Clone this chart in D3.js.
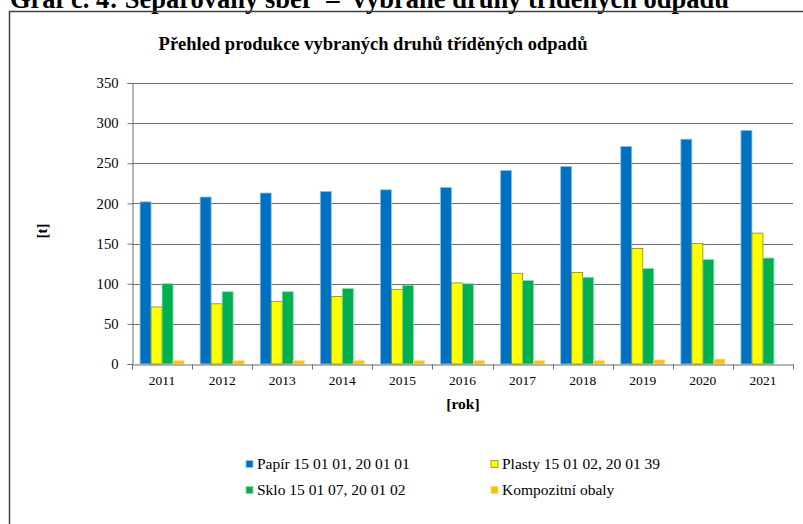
<!DOCTYPE html>
<html>
<head>
<meta charset="utf-8">
<script src="https://cdn.jsdelivr.net/npm/d3@7"></script>
<style>
  body { margin: 0; background: #fff; }
  svg text { font-family: "Liberation Serif", "Times New Roman", serif; }
</style>
</head>
<body>
<script>
// data
var years = ['2011', '2012', '2013', '2014', '2015', '2016', '2017', '2018', '2019', '2020', '2021'];
var seriesNames = ['Papír 15 01 01, 20 01 01', 'Plasty 15 01 02, 20 01 39', 'Sklo 15 01 07, 20 01 02', 'Kompozitní obaly'];
var papir = [202, 208, 213, 215, 217, 220, 241, 246, 271, 280, 291];
var plasty = [71, 75, 78, 84, 93, 101, 113, 114, 144, 150, 163];
var sklo = [100, 90, 90, 94, 98, 100, 104, 108, 119, 130, 132];
var kompozit = [4, 4, 4, 4, 4, 4, 4, 4, 5, 6, 0];
var yTicks = [0, 50, 100, 150, 200, 250, 300, 350];

var colors = ['#0070c0', '#ffff00', '#00b050', '#ffc000'];
var strokes = ['#8cc4ee', '#8c8c00', '#8fdcaa', '#ffd870'];

var W = 803, H = 524;
var plot = {left: 132, right: 793, top: 83, bottom: 364};
var serif = '"Liberation Serif", "Times New Roman", serif';

var svg = d3.select('body').append('svg')
    .attr('width', W)
    .attr('height', H);

//page heading, cut off by the top edge
svg.append('text')
    .attr('x', 10)
    .attr('y', 8)
    .attr('font-size', 26.5)
    .attr('font-weight', 'bold')
    .attr('font-family', serif)
    .style('white-space', 'pre')
    .text('Graf č. 4: Separovaný sběr  –  vybrané druhy tříděných odpadů');

//chart frame
svg.append('rect')
    .attr('x', 9.5).attr('y', 11.5)
    .attr('width', 820).attr('height', 540)
    .attr('fill', 'none')
    .attr('stroke', '#404040')
    .attr('stroke-width', 1.5);

svg.append('text')
    .attr('x', 373)
    .attr('y', 50)
    .attr('text-anchor', 'middle')
    .attr('font-size', 18.5)
    .attr('font-weight', 'bold')
    .attr('font-family', serif)
    .text('Přehled produkce vybraných druhů tříděných odpadů');

//scales
var x0 = d3.scaleBand().domain(years).range([plot.left, plot.right]).padding(0);
var x1 = d3.scaleBand().domain(d3.range(4)).range([0, x0.bandwidth()]).paddingInner(0).paddingOuter(0.73);
var y = d3.scaleLinear().domain([0, 350]).range([plot.bottom, plot.top]);

//gridlines
svg.append('g').selectAll('line')
    .data(yTicks.slice(1))
    .enter().append('line')
    .attr('x1', plot.left).attr('x2', plot.right)
    .attr('y1', function(d) { return Math.round(y(d)) + 0.5; })
    .attr('y2', function(d) { return Math.round(y(d)) + 0.5; })
    .attr('stroke', '#6e6e6e');

//bars
var table = years.map(function(yr, i) {
    return [papir[i], plasty[i], sklo[i], kompozit[i]];
});
var groups = svg.append('g').selectAll('g')
    .data(table)
    .enter().append('g')
    .attr('transform', function(d, i) { return 'translate(' + x0(years[i]) + ',0)'; });
groups.selectAll('rect')
    .data(function(d) { return d; })
    .enter().append('rect')
    .filter(function(d) { return d > 0; })
    .attr('x', function(d, j) { return x1(j); })
    .attr('y', function(d) { return y(d); })
    .attr('width', x1.bandwidth())
    .attr('height', function(d) { return y(0) - y(d); })
    .attr('fill', function(d, j) { return colors[j]; })
    .attr('stroke', function(d, j) { return strokes[j]; })
    .attr('stroke-width', 0.8);

//y axis
var yAxis = d3.axisLeft(y).tickValues(yTicks).tickSize(5).tickPadding(9);
var gy = svg.append('g')
    .attr('transform', 'translate(' + (plot.left + 0.5) + ',0)')
    .call(yAxis)
    .attr('font-family', serif);
gy.selectAll('text').attr('font-size', 14.6).attr('fill', '#000');
gy.selectAll('line, path').attr('stroke', '#6e6e6e');

//x axis, ticks at category boundaries
var xAxis = d3.axisBottom(x0).tickSize(0).tickPadding(11);
var gx = svg.append('g')
    .attr('transform', 'translate(0,' + (plot.bottom + 0.5) + ')')
    .call(xAxis)
    .attr('font-family', serif);
gx.selectAll('text').attr('font-size', 13.5).attr('fill', '#000');
gx.select('.domain').attr('stroke', '#6e6e6e');
gx.selectAll('.bound')
    .data(years.concat(['end']))
    .enter().append('line')
    .attr('class', 'bound')
    .attr('x1', function(d, i) { return Math.round(plot.left + i * x0.step()) + 0.5; })
    .attr('x2', function(d, i) { return Math.round(plot.left + i * x0.step()) + 0.5; })
    .attr('y1', 0).attr('y2', 5)
    .attr('stroke', '#6e6e6e');

//axis titles
svg.append('text')
    .attr('x', 463).attr('y', 409)
    .attr('text-anchor', 'middle')
    .attr('font-size', 15.5).attr('font-weight', 'bold')
    .attr('font-family', serif)
    .text('[rok]');
svg.append('text')
    .attr('transform', 'translate(47,231) rotate(-90)')
    .attr('text-anchor', 'middle')
    .attr('font-size', 14.5).attr('font-weight', 'bold')
    .attr('font-family', serif)
    .text('[t]');

//legend
var legendPos = [[246, 464], [491, 464], [246, 490], [491, 490]];
var leg = svg.append('g').selectAll('g')
    .data(seriesNames)
    .enter().append('g')
    .attr('transform', function(d, i) { return 'translate(' + legendPos[i][0] + ',' + legendPos[i][1] + ')'; });
leg.append('rect')
    .attr('x', 0).attr('y', -3.5)
    .attr('width', 7).attr('height', 7)
    .attr('fill', function(d, i) { return colors[i]; })
    .attr('stroke', function(d, i) { return strokes[i]; })
    .attr('stroke-width', 0.8);
leg.append('text')
    .attr('x', 11).attr('y', 5)
    .attr('font-size', 15.5)
    .attr('font-family', serif)
    .text(function(d) { return d; });
</script>
</body>
</html>
